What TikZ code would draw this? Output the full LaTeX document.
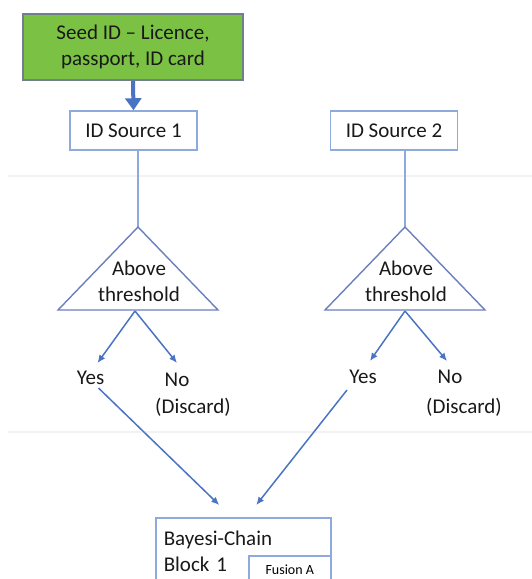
\documentclass[tikz,border=0pt]{standalone}
\usepackage{fontspec}
\setmainfont{Carlito}
\usetikzlibrary{arrows.meta}
\definecolor{seedgreen}{HTML}{7BC143}
\definecolor{seedline}{HTML}{6F7F8F}
\definecolor{boxline}{HTML}{8EA9DB}
\definecolor{triline}{HTML}{6A80BE}
\definecolor{flowblue}{HTML}{4A73C4}
\tikzset{
  txt/.style={font=\fontsize{21}{26}\selectfont, text=black!90, inner sep=1pt},
  idbox/.style={txt, draw=boxline, line width=1.5pt, fill=white, minimum width=127pt, minimum height=39pt},
  flow/.style={draw=flowblue, line width=1.5pt, -{Latex[length=8pt,width=7pt]}},
}
\begin{document}
\begin{tikzpicture}[x=1pt,y=-1pt]
    \useasboundingbox (0,0) rectangle (532,579);
    \clip (0,0) rectangle (532,579);
    % faint page breaks of the screenshot
    \draw[black!5, line width=1.5pt] (8,176) -- (532,176);
    \draw[black!5, line width=1.5pt] (8,432) -- (532,432);
    % sources
    \node[txt, draw=seedline, line width=1.5pt, fill=seedgreen, minimum width=220pt, minimum height=66pt, align=center] (seed) at (133,47) {Seed ID – Licence,\\passport, ID card};
    \node[idbox] (src1) at (133.5,130.5) {ID Source 1};
    \node[idbox] (src2) at (394,130.5) {ID Source 2};
    \draw[draw=flowblue, line width=4pt, -{Triangle[length=12pt,width=16pt]}] (seed.south) -- (src1.north);
    % threshold triangles
    \coordinate (top1) at (138,227);
    \coordinate (top2) at (405,227);
    \coordinate (base1) at (135,311);
    \coordinate (base2) at (405,311);
    \draw[boxline, line width=1.2pt] (src1.south -| top1) -- (top1);
    \draw[boxline, line width=1.2pt] (src2.south -| top2) -- (top2);
    \draw[triline, line width=1.4pt] (top1) -- (218,310) -- (58,310) -- cycle;
    \draw[triline, line width=1.4pt] (top2) -- (485,310) -- (325,310) -- cycle;
    \node[txt, align=center] (thr1) at (139,281) {Above\\threshold};
    \node[txt, align=center] (thr2) at (406,281) {Above\\threshold};
    % outcomes
    \node[txt] (yes1) at (90.5,378) {Yes};
    \node[txt] (no1) at (177,380) {No};
    \node[txt] (dis1) at (193,407) {(Discard)};
    \node[txt] (yes2) at (363,377) {Yes};
    \node[txt] (no2) at (450,377) {No};
    \node[txt] (dis2) at (464,407) {(Discard)};
    \draw[flow] (base1) -- ([xshift=7pt,yshift=7pt]yes1.north);
    \draw[flow] (base1) -- ([yshift=9pt]no1.north);
    \draw[flow] (base2) -- ([xshift=7pt,yshift=8pt]yes2.north);
    \draw[flow] (base2) -- ([xshift=-3pt,yshift=8pt]no2.north);
    % chain block
    \node[txt, draw=boxline, line width=1.5pt, anchor=north west, minimum width=175pt, minimum height=68pt, text width=159pt, inner xsep=8pt, align=left] (bayes) at (155,517) {Bayesi-Chain\\Block 1};
    \node[draw=boxline, line width=1.5pt, fill=white, anchor=north west, minimum width=82pt, minimum height=27pt, font=\fontsize{14}{16}\selectfont] (fusion) at (248,555) {Fusion A};
    \draw[flow] ([xshift=8pt,yshift=-2pt]yes1.south) -- ([xshift=-24pt,yshift=12pt]bayes.north);
    \draw[flow] ([xshift=-16pt,yshift=-5pt]yes2.south) -- ([xshift=13pt,yshift=12pt]bayes.north);
\end{tikzpicture}
\end{document}
